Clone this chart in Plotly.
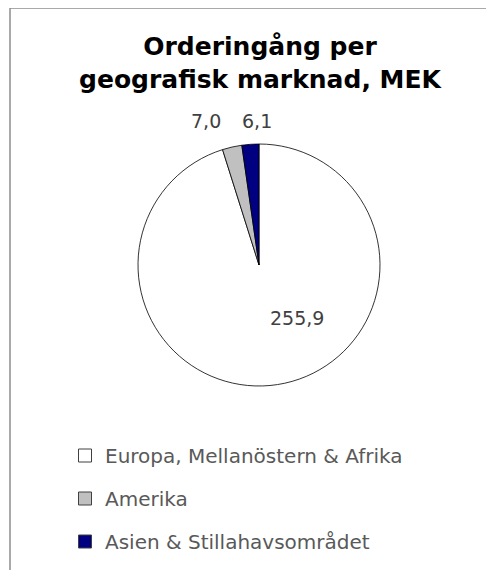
import plotly.graph_objects as go

regions = ["Europa, Mellanöstern & Afrika", "Amerika", "Asien & Stillahavsområdet"]
orders_mek = [255.9, 7.0, 6.1]
slice_colors = ["#FFFFFF", "#C0C0C0", "#000080"]
title_text = "Orderingång per<br>geografisk marknad, MEK"

# page offset (the html body adds an 8 px margin)
OFF = 8
W, H = 494 - OFF, 570 - OFF


def px(x):
    return (x - OFF) / W


def py(y):
    return 1 - (y - OFF) / H


FONT = "DejaVu Sans, sans-serif"

fig = go.Figure()
fig.add_trace(go.Pie(
    labels=regions,
    values=orders_mek,
    sort=False,
    direction="clockwise",
    rotation=0,
    marker=dict(colors=slice_colors, line=dict(color="#000000", width=0.8)),
    textinfo="none",
    domain=dict(x=[px(138), px(380)], y=[py(386), py(144)]),
    showlegend=False,
    hoverinfo="label+value",
))

for name, col in zip(regions, slice_colors):
    fig.add_trace(go.Scatter(
        x=[None], y=[None], mode="markers", name=name, legendgroup=name,
        marker=dict(symbol="square", size=13, color=col, line=dict(color="#404040", width=1)),
    ))

# value labels (placed as Excel places them)
label_pos = [(297, 318), (206, 121), (257, 121)]
annotations = []
for v, (lx, ly) in zip(orders_mek, label_pos):
    annotations.append(dict(
        x=px(lx), y=py(ly), xref="paper", yref="paper", showarrow=False,
        text=f"{v:.1f}".replace(".", ","), xanchor="center", yanchor="middle",
        font=dict(family=FONT, size=19, color="#404040"),
    ))

fig.update_layout(
    width=W, height=H,
    margin=dict(l=0, r=0, t=0, b=0),
    paper_bgcolor="white", plot_bgcolor="white",
    title=dict(text=title_text, x=px(260), xanchor="center", y=py(55), yanchor="middle",
               font=dict(family=FONT, size=25, color="#000000", weight="bold")),
    xaxis=dict(visible=False), yaxis=dict(visible=False),
    legend=dict(x=px(65), xanchor="left", y=py(436), yanchor="top",
                font=dict(family=FONT, size=20, color="#595959"),
                tracegroupgap=14, itemwidth=30),
    annotations=annotations,
    shapes=[
        dict(type="line", xref="paper", yref="paper", x0=px(10), x1=1, y0=1, y1=1,
             line=dict(color="#8C8C8C", width=1.5)),
        dict(type="line", xref="paper", yref="paper", x0=px(10), x1=px(10), y0=1, y1=0,
             line=dict(color="#8C8C8C", width=1.5)),
    ],
)

fig.write_html("out.html")
